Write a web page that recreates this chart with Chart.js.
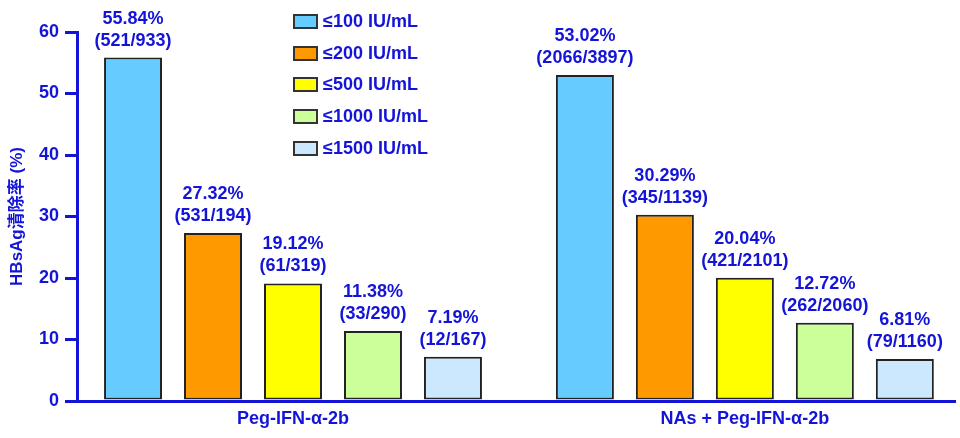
<!DOCTYPE html>
<html>
<head>
<meta charset="utf-8">
<script src="https://cdn.jsdelivr.net/npm/chart.js@4.4.1/dist/chart.umd.min.js"></script>
<style>
html, body { margin: 0; padding: 0; background: #fff; overflow: hidden; }
#wrap { position: relative; width: 960px; height: 438px; }
#legend {
    position: absolute; left: 293px; top: 6px;
    font: bold 18px "Liberation Sans", Arial, sans-serif; color: #1414d8;
}
.item { display: flex; align-items: center; height: 31.6px; }
.sw { width: 21px; height: 11px; border: 2px solid #333; margin-right: 5px; }
</style>
</head>
<body>
<div id="wrap">
    <canvas id="chart" width="960" height="438"></canvas>
    <div id="legend"></div>
</div>
<script>
// Data
const groups = ['Peg-IFN-\u03b1-2b', 'NAs + Peg-IFN-\u03b1-2b'];
const levels = ['\u2264100 IU/mL', '\u2264200 IU/mL', '\u2264500 IU/mL', '\u22641000 IU/mL', '\u22641500 IU/mL'];
const colors = ['#66ccff', '#ff9900', '#ffff00', '#ccff99', '#cce8ff'];
const rates = [
    [55.84, 53.02],
    [27.32, 30.29],
    [19.12, 20.04],
    [11.38, 12.72],
    [7.19, 6.81]
];
const counts = [
    ['521/933', '2066/3897'],
    ['531/194', '345/1139'],
    ['61/319', '421/2101'],
    ['33/290', '262/2060'],
    ['12/167', '79/1160']
];

const BLUE = '#1414d8';
const FONT = '"Liberation Sans", Arial, sans-serif';

// Legend (html)
const legend = document.getElementById('legend');
levels.forEach((lv, i) => {
    legend.innerHTML += `<div class="item"><span class="sw" style="background:${colors[i]}"></span>${lv}</div>`;
});

// Value labels above bars
const barLabels = {
    id: 'barLabels',
    afterDatasetsDraw(chart) {
        const ctx = chart.ctx;
        ctx.save();
        ctx.fillStyle = BLUE;
        ctx.font = 'bold 18px ' + FONT;
        ctx.textAlign = 'center';
        ctx.textBaseline = 'middle';
        chart.data.datasets.forEach((ds, i) => {
            chart.getDatasetMeta(i).data.forEach((bar, j) => {
                ctx.fillText(rates[i][j].toFixed(2) + '%', bar.x, bar.y - 39);
                ctx.fillText('(' + counts[i][j] + ')', bar.x, bar.y - 17);
            });
        });
        ctx.restore();
    }
};

new Chart(document.getElementById('chart'), {
    type: 'bar',
    data: {
        datasets: levels.map((lv, i) => ({
            label: lv,
            data: rates[i].map((v, j) => ({ x: j, y: v })),
            backgroundColor: colors[i],
            borderColor: '#222',
            borderWidth: 2,
            borderSkipped: false,
            categoryPercentage: 0.885,
            barPercentage: 0.725
        }))
    },
    options: {
        responsive: false,
        animation: false,
        layout: { padding: { top: 32, right: 5, left: 0, bottom: 0 } },
        plugins: {
            legend: { display: false },
            tooltip: { enabled: false }
        },
        scales: {
            x: {
                type: 'linear',
                offset: false,
                min: -0.478,
                max: 1.465,
                afterBuildTicks: (axis) => {
                    axis.ticks = groups.map((g, i) => ({ value: i }));
                },
                afterFit: (axis) => { axis.height = 37; },
                grid: { display: false, drawTicks: false, offset: false },
                border: { display: true, color: BLUE, width: 3 },
                ticks: {
                    padding: 7,
                    color: BLUE,
                    font: { family: FONT, size: 18, weight: 'bold' },
                    callback: (value) => groups[value]
                }
            },
            y: {
                min: 0,
                max: 60,
                afterFit: (axis) => { axis.width = 77; },
                grid: {
                    display: true,
                    drawOnChartArea: false,
                    drawTicks: true,
                    tickLength: 12,
                    color: BLUE,
                    lineWidth: 3
                },
                border: { display: true, color: BLUE, width: 3 },
                ticks: {
                    stepSize: 10,
                    padding: 6,
                    color: BLUE,
                    font: { family: FONT, size: 18, weight: 'bold' }
                },
                title: {
                    display: true,
                    text: 'HBsAg清除率 (%)',
                    color: BLUE,
                    padding: { top: 7, bottom: 0 },
                    font: { family: '"Liberation Sans", "Noto Sans CJK SC", sans-serif', size: 17, weight: 'bold' }
                }
            }
        }
    },
    plugins: [barLabels]
});
</script>
</body>
</html>
